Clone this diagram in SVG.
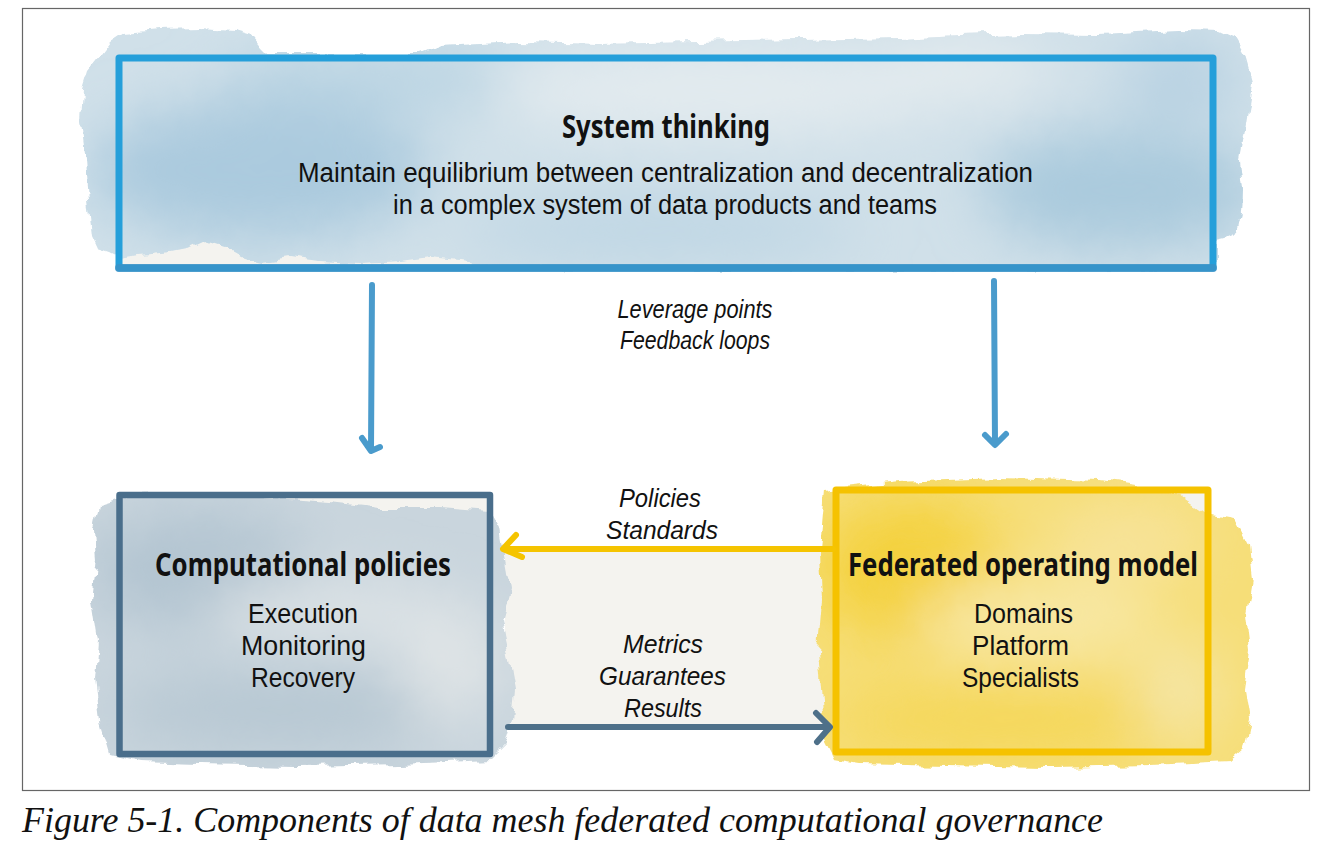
<svg xmlns="http://www.w3.org/2000/svg" width="1340" height="858" viewBox="0 0 1340 858">
<style>
.t{font-family:"Liberation Sans","Noto Sans",sans-serif;fill:#111;text-anchor:middle}
.b{font-family:"Noto Sans","Liberation Sans",sans-serif;font-weight:bold;font-size:32px}
.r{font-size:27px}
.i{font-style:italic;font-size:26px}
.cap{font-family:"Liberation Serif",serif;font-style:italic;font-size:36px;fill:#111}
.arr{fill:none;stroke-linecap:round;stroke-linejoin:round;stroke-width:6}
</style>
<defs>
<filter id="rough" x="-5%" y="-10%" width="110%" height="120%">
<feTurbulence type="fractalNoise" baseFrequency="0.045" numOctaves="3" seed="4" result="n"/>
<feDisplacementMap in="SourceGraphic" in2="n" scale="12" xChannelSelector="R" yChannelSelector="G"/>
</filter>
<filter id="blur" x="-50%" y="-50%" width="200%" height="200%">
<feGaussianBlur stdDeviation="28"/>
</filter>
<clipPath id="cTop"><path d="M110,42 L125,32 L160,29 L200,28 L235,30 L252,35 L262,48 L268,54 L420,54 L440,46 L520,42 L600,44 L700,42 L800,40 L900,38 L960,35 L1020,33 L1100,34 L1180,30 L1220,31 L1235,38 L1245,55 L1252,80 L1250,100 L1245,130 L1240,160 L1243,190 L1242,215 L1238,232 L1225,238 L1216,240 L1216,268 L1000,270 L700,270 L520,268 L470,262 L430,258 L400,262 L360,264 L320,262 L290,258 L262,262 L245,258 L225,247 L205,241 L190,248 L170,252 L140,255 L122,258 L110,252 L98,248 L92,235 L88,200 L85,160 L80,120 L82,90 L88,70 L100,55 Z"/></clipPath>
<clipPath id="cLeft"><path d="M100,505 L130,496 L200,494 L260,497 L330,502 L380,508 L440,508 L490,512 L500,530 L505,560 L510,590 L502,620 L508,650 L515,690 L512,720 L505,745 L490,760 L400,764 L300,766 L200,764 L140,762 L110,755 L100,720 L95,680 L98,640 L92,600 L97,560 L95,530 Z"/></clipPath>
<clipPath id="cRight"><path d="M825,490 L900,482 L1000,478 L1100,481 L1150,488 L1180,498 L1205,515 L1235,520 L1248,545 L1252,580 L1246,615 L1250,650 L1245,690 L1250,720 L1244,750 L1230,762 L1150,766 L1050,768 L950,766 L860,764 L835,760 L825,740 L822,700 L818,650 L822,600 L820,550 Z"/></clipPath>
</defs>

<rect x="0" y="0" width="1340" height="858" fill="#fff"/>
<rect x="22.5" y="8.5" width="1287" height="782" fill="none" stroke="#666" stroke-width="1.2"/>
<rect x="505" y="551" width="328" height="175" fill="#f4f3ef"/>

<g id="system-thinking">
<rect x="119" y="58" width="1094" height="210" fill="#f4f3ef"/>
<g filter="url(#rough)">
<g clip-path="url(#cTop)">
<rect x="70" y="20" width="1200" height="260" fill="#d0e0e9"/>
<g filter="url(#blur)">
<ellipse cx="260" cy="170" rx="170" ry="70" fill="#abcade"/>
<ellipse cx="380" cy="80" rx="160" ry="30" fill="#bad4e3"/>
<ellipse cx="720" cy="90" rx="230" ry="45" fill="#e3ebef"/>
<ellipse cx="1120" cy="190" rx="140" ry="60" fill="#aacadd"/>
<ellipse cx="960" cy="70" rx="90" ry="30" fill="#e5ecef"/>
<ellipse cx="660" cy="230" rx="200" ry="30" fill="#bed6e4"/>
<ellipse cx="1180" cy="80" rx="60" ry="40" fill="#b7d1e2"/>
</g>
</g>
</g>
<rect x="119" y="58" width="1094" height="210" fill="none" stroke="#259fda" stroke-width="7" stroke-linejoin="round"/>
<path d="M119,268 L1213,268" stroke="#3b92c7" stroke-width="8" stroke-linecap="round" opacity="0.8"/>
<text class="t b" x="666" y="138" textLength="208" lengthAdjust="spacingAndGlyphs">System thinking</text>
<text class="t r" x="665.5" y="182" textLength="735" lengthAdjust="spacingAndGlyphs">Maintain equilibrium between centralization and decentralization</text>
<text class="t r" x="665" y="214" textLength="544" lengthAdjust="spacingAndGlyphs">in a complex system of data products and teams</text>
</g>

<g id="computational-policies">
<rect x="119.5" y="495" width="370.5" height="259" fill="#f4f3ef"/>
<g filter="url(#rough)">
<g clip-path="url(#cLeft)">
<rect x="80" y="480" width="450" height="300" fill="#c9d5dd"/>
<g filter="url(#blur)">
<ellipse cx="200" cy="570" rx="110" ry="60" fill="#b3c5d1"/>
<ellipse cx="330" cy="610" rx="120" ry="30" fill="#dde3e6"/>
<ellipse cx="280" cy="710" rx="170" ry="40" fill="#b7c8d3"/>
<ellipse cx="450" cy="660" rx="50" ry="60" fill="#dfe4e6"/>
</g>
</g>
</g>
<rect x="119.5" y="495" width="370.5" height="259" fill="none" stroke="#4a6e8b" stroke-width="6.5" stroke-linejoin="round"/>
<text class="t b" x="303" y="576" textLength="296" lengthAdjust="spacingAndGlyphs">Computational policies</text>
<text class="t r" x="303" y="623" textLength="110" lengthAdjust="spacingAndGlyphs">Execution</text>
<text class="t r" x="303.5" y="655" textLength="125" lengthAdjust="spacingAndGlyphs">Monitoring</text>
<text class="t r" x="303" y="687" textLength="104" lengthAdjust="spacingAndGlyphs">Recovery</text>
</g>

<g id="federated-operating-model">
<rect x="836" y="490" width="372" height="262" fill="#f4f3ef"/>
<g filter="url(#rough)">
<g clip-path="url(#cRight)">
<rect x="800" y="470" width="470" height="310" fill="#f6de78"/>
<g filter="url(#blur)">
<ellipse cx="910" cy="570" rx="90" ry="70" fill="#f4d13e"/>
<ellipse cx="1040" cy="620" rx="120" ry="40" fill="#f8e8a6"/>
<ellipse cx="1130" cy="540" rx="80" ry="40" fill="#f7e39a"/>
<ellipse cx="1000" cy="720" rx="170" ry="35" fill="#f5d759"/>
<ellipse cx="1180" cy="690" rx="40" ry="50" fill="#f5e6a8"/>
</g>
</g>
</g>
<rect x="836" y="490" width="372" height="262" fill="none" stroke="#f5c200" stroke-width="7" stroke-linejoin="round"/>
<text class="t b" x="1023" y="576" textLength="350" lengthAdjust="spacingAndGlyphs">Federated operating model</text>
<text class="t r" x="1023.5" y="623" textLength="99" lengthAdjust="spacingAndGlyphs">Domains</text>
<text class="t r" x="1020.5" y="655" textLength="97" lengthAdjust="spacingAndGlyphs">Platform</text>
<text class="t r" x="1020.5" y="687" textLength="117" lengthAdjust="spacingAndGlyphs">Specialists</text>
</g>

<g id="connectors">
<path class="arr" stroke="#4a9bcc" d="M372,285 L371,450 M362,438 L371,451 L380,447"/>
<path class="arr" stroke="#4a9bcc" d="M994,281 L995,444 M985,435 L995,445 L1006,434"/>
<path class="arr" stroke="#f5c400" d="M833,549 L504,549 M516,535 L503,549 L522,557"/>
<path class="arr" stroke="#4e7089" d="M508,727 L828,727 M816,713 L830,727 L817,742"/>
<text class="t i" x="695" y="318" textLength="155" lengthAdjust="spacingAndGlyphs">Leverage points</text>
<text class="t i" x="695" y="349" textLength="150" lengthAdjust="spacingAndGlyphs">Feedback loops</text>
<text class="t i" x="660" y="507" textLength="82" lengthAdjust="spacingAndGlyphs">Policies</text>
<text class="t i" x="662" y="539" textLength="112" lengthAdjust="spacingAndGlyphs">Standards</text>
<text class="t i" x="663" y="653" textLength="80" lengthAdjust="spacingAndGlyphs">Metrics</text>
<text class="t i" x="662.5" y="685" textLength="127" lengthAdjust="spacingAndGlyphs">Guarantees</text>
<text class="t i" x="663" y="717" textLength="78" lengthAdjust="spacingAndGlyphs">Results</text>
</g>

<text class="cap" x="22" y="832" textLength="1081" lengthAdjust="spacingAndGlyphs">Figure 5-1. Components of data mesh federated computational governance</text>
</svg>
